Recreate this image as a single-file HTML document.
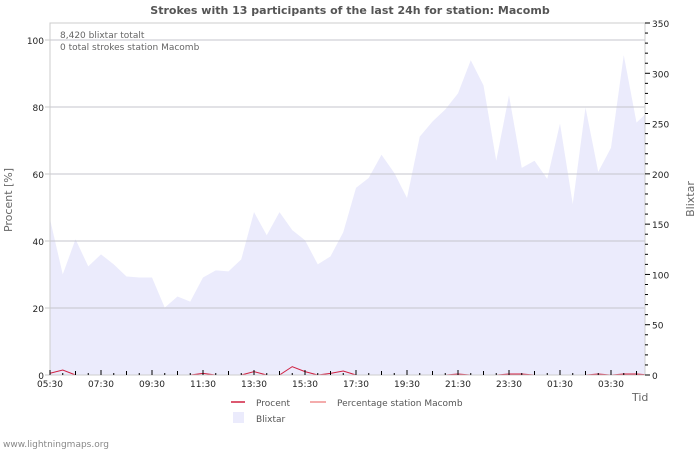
<!DOCTYPE html>
<html><head><meta charset="utf-8"><style>
body{margin:0;background:#fff;width:700px;height:450px;overflow:hidden;font-family:"Liberation Sans","DejaVu Sans",sans-serif}
svg text{font-family:"DejaVu Sans","Liberation Sans",sans-serif}
</style></head><body>
<svg id="c" width="700" height="450">
<defs><clipPath id="clip"><rect x="50" y="23" width="595" height="352"/></clipPath></defs>
<text x="350" y="14" text-anchor="middle" font-size="11" font-weight="bold" fill="#555">Strokes with 13 participants of the last 24h for station: Macomb</text>
<g id="grid"></g>
<g id="marks" clip-path="url(#clip)"></g>
<rect x="50" y="23" width="595" height="352" fill="none" stroke="#ccc"/>
<g id="axes"></g>
<text x="60" y="38" font-size="9" fill="#666">8,420 blixtar totalt</text>
<text x="60" y="50" font-size="9" fill="#666">0 total strokes station Macomb</text>
<text transform="translate(12,200) rotate(-90)" text-anchor="middle" font-size="11" fill="#666">Procent   [%]</text>
<text transform="translate(694,199) rotate(-90)" text-anchor="middle" font-size="11" fill="#666">Blixtar</text>
<text x="632" y="401" font-size="11" fill="#666">Tid</text>
<g>
<line x1="231" y1="402" x2="245" y2="402" stroke="#d02040" stroke-width="1.5"/>
<text x="256" y="406" font-size="9" fill="#555">Procent</text>
<line x1="310" y1="402" x2="326" y2="402" stroke="#f09090" stroke-width="1.5"/>
<text x="337" y="406" font-size="9" fill="#555">Percentage station Macomb</text>
<rect x="233" y="412" width="11" height="11" fill="#ebebfc"/>
<text x="256" y="422" font-size="9" fill="#555">Blixtar</text>
</g>
<text x="3" y="447" font-size="9" fill="#888">www.lightningmaps.org</text>
</svg>
<script>
const blixtar=[155,100,135,108,120,110,98,97,97,67,78,73,97,104,103,115,162,139,162,144,134,110,118,142,186,196,219,201,176,237,252,264,280,313,288,213,278,206,213,195,250,170,266,202,226,318,251,263];
const procent=[0.5,1.5,0,0,0,0,0,0,0,0,0,0,0.5,0,0,0,1,0,0,2.5,1,0,0.5,1.2,0,0,0,0,0,0,0,0,0.3,0,0,0,0.3,0.3,0,0,0,0,0,0.3,0,0.3,0.3,0];
const xLabels=["05:30","07:30","09:30","11:30","13:30","15:30","17:30","19:30","21:30","23:30","01:30","03:30"];
const leftTicks=[0,20,40,60,80,100];
const rightTicks=[0,50,100,150,200,250,300,350];
const NS="http://www.w3.org/2000/svg";
const X0=50,X1=645,Y0=375;
const step=12.75;
const xs=i=>X0+i*step;
const yL=v=>Y0-v*3.35;
const yR=v=>Y0-v*352/350;
function mk(t,a,p){const e=document.createElementNS(NS,t);for(const k in a)e.setAttribute(k,a[k]);p.appendChild(e);return e;}
const grid=document.getElementById('grid'),marks=document.getElementById('marks'),axes=document.getElementById('axes');
leftTicks.forEach(v=>{
 const l=mk('line',{x1:X0-5,x2:X1,y1:yL(v),y2:yL(v),stroke:'#c8c8c8'},grid);
 
 
 const t=mk('text',{x:X0-6,y:yL(v)+4,'text-anchor':'end','font-size':9,fill:'#222'},axes);t.textContent=v;
 
 
});
let d='M'+X0+','+Y0;
blixtar.forEach((v,i)=>d+=' L'+xs(i)+','+yR(v));
d+=' L'+xs(blixtar.length-1)+','+Y0+' Z';
const area=mk('path',{d:d,fill:'#ebebfc'},marks);


leftTicks.forEach(v=>{if(v>0){const l=mk('line',{x1:X0,x2:X1,y1:yL(v),y2:yL(v),stroke:'#c4c4cc'},marks);
 
 }});
const pl=mk('polyline',{points:procent.map((v,i)=>xs(i)+','+yL(v)).join(' '),fill:'none',stroke:'#d02040','stroke-width':1},marks);


for(let i=0;i<47;i++){
 const major=i%4===0;
 const l=mk('line',{x1:xs(i),x2:xs(i),y1:Y0,y2:Y0-(major?5:(i%2===0?4:2)),stroke:'#000'},axes);
 
 
}
xLabels.forEach((s,i)=>{const t=mk('text',{x:xs(i*4),y:Y0+12,'text-anchor':'middle','font-size':9,fill:'#222'},axes);t.textContent=s;
 
 });
for(let v=0;v<=350;v+=10){
 const l=mk('line',{x1:X1,x2:X1+(v%50===0?5:3),y1:yR(v),y2:yR(v),stroke:'#000'},axes);
 
 
}
rightTicks.forEach(v=>{const t=mk('text',{x:X1+7,y:yR(v)+4,'font-size':9,fill:'#222'},axes);t.textContent=v;
 
 });
</script>
</body></html>
